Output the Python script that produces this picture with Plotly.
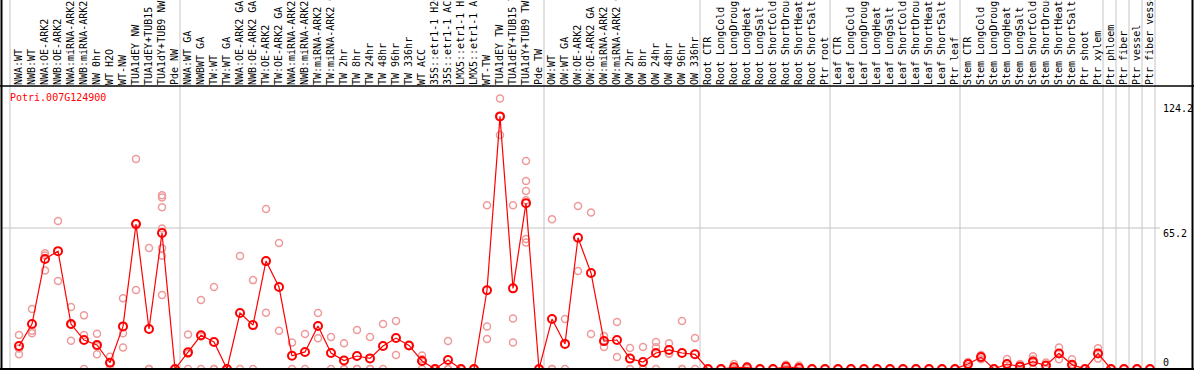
import plotly.graph_objects as go

labels = [
    "NWA:WT", "NWB:WT", "NWA:OE-ARK2", "NWB:OE-ARK2", "NWA:miRNA-ARK2", "NWB:miRNA-ARK2",
    "NW 0hr", "WT H2O", "WT-NW", "TUA1dEY NW", "TUA1dEY+TUB15 NW", "TUA1dY+TUB9 NW", "Pde NW",
    "NWA:WT GA", "NWBWT GA", "TW:WT", "TW:WT GA", "NWA:OE-ARK2 GA", "NWB:OE-ARK2 GA",
    "TW:OE-ARK2", "TW:OE-ARK2 GA", "NWA:miRNA-ARK2 GA", "NWB:miRNA-ARK2 GA", "TW:miRNA-ARK2",
    "TW:miRNA-ARK2 GA", "TW 2hr", "TW 8hr", "TW 24hr", "TW 48hr", "TW 96hr", "TW 336hr",
    "WT ACC", "35S::etr1-1 H2O", "35S::etr1-1 ACC", "LMX5::etr1-1 H2O", "LMX5::etr1-1 ACC",
    "WT-TW", "TUA1dEY TW", "TUA1dEY+TUB15 TW", "TUA1dY+TUB9 TW", "Pde TW",
    "OW:WT", "OW:WT GA", "OW:OE-ARK2", "OW:OE-ARK2 GA", "OW:miRNA-ARK2", "OW:miRNA-ARK2 GA",
    "OW 2hr", "OW 8hr", "OW 24hr", "OW 48hr", "OW 96hr", "OW 336hr",
    "Root CTR", "Root LongCold", "Root LongDrought", "Root LongHeat", "Root LongSalt",
    "Root ShortCold", "Root ShortDrought", "Root ShortHeat", "Root ShortSalt", "Ptr root",
    "Leaf CTR", "Leaf LongCold", "Leaf LongDrought", "Leaf LongHeat", "Leaf LongSalt",
    "Leaf ShortCold", "Leaf ShortDrought", "Leaf ShortHeat", "Leaf ShortSalt", "Ptr leaf",
    "Stem CTR", "Stem LongCold", "Stem LongDrought", "Stem LongHeat", "Stem LongSalt",
    "Stem ShortCold", "Stem ShortDrought", "Stem ShortHeat", "Stem ShortSalt", "Ptr shoot",
    "Ptr xylem", "Ptr phloem", "Ptr fiber", "Ptr vessel", "Ptr fiber vessel",
]

means = [
    10.6, 20.8, 50.9, 54.5, 20.8, 13.4, 11.1, 2.9, 19.7, 67.0, 18.5, 62.9, 0,
    7.7, 15.6, 12.5, 0, 25.9, 20.3, 49.9, 37.9, 6.1, 7.9, 19.9, 7.4, 3.9, 6.0, 4.9,
    10.6, 14.3, 10.9, 3.7, 0, 4.2, 0, 0, 36.4, 116.8, 37.3, 76.7, 0,
    23.1, 11.6, 60.7, 44.4, 12.9, 13.4, 4.8, 3.2, 7.4, 8.8, 7.4, 6.8,
    0, 0, 0.8, 0.7, 0, 0, 1.0, 0.5, 0, 0,
    0, 0, 0, 0, 0, 0, 0, 0, 0, 0,
    2.3, 5.5, 0, 2.3, 1.2, 3.4, 1.6, 7.2, 2.0, 0, 7.2,
    0, 0, 0, 0,
]

replicates = [
    [15.7, 9.5, 6.8], [27.7, 17.7, 16.5], [53.5, 52.5, 45.6], [68.4, 40.7],
    [28.7, 20.5, 13.1], [24.8, 15.7, 0], [16.3, 10.5, 6.8], [5.7, 3.0, 0],
    [32.7, 16.5, 9.9], [97.1, 36.5, 67.5], [55.9, 0, 0],
    [80.3, 79.3, 74.8, 65.0, 55.8, 52.4, 34.2], [0, 0],
    [16.0, 7.0, 0], [31.9, 15.0, 0], [37.9, 0, 0], [0, 0], [52.2, 0], [41.1, 0],
    [74.0, 26.0], [58.3, 17.7], [12.2, 0], [16.2, 0], [25.9, 14.2], [14.8, 0],
    [11.9, 0, 0], [18.0, 0, 0], [14.8, 0, 0], [20.8, 0], [22.2, 6.5], [10.9, 10.9],
    [6.2, 4.5, 0], [0, 0], [12.9, 0, 0], [0, 0], [0, 0],
    [75.7, 19.7, 13.9], [125.1, 116.8, 108.2], [75.7, 23.4, 12.3],
    [96.2, 86.9, 82.3, 78.0, 60.1, 58.5], [0, 0],
    [69.3, 0, 0], [23.1, 0], [75.4, 45.3], [72.4, 16.2], [15.3, 10.2], [21.7, 5.5],
    [9.7, 0], [10.2, 0, 0], [12.5, 10.0, 0], [11.9, 7.2, 7.0], [22.2, 0, 0], [14.3, 0],
    [0, 0], [0, 0], [2.3, 0, 0], [1.4, 0], [0, 0], [0, 0], [2.0, 0.9, 0], [1.6, 0, 0],
    [0, 0], [0, 0],
    [0, 0], [0, 0], [0, 0], [0, 0], [0, 0], [0, 0], [0, 0], [0, 0], [0, 0], [0, 0],
    [3.2, 2.3, 1.4], [6.5, 5.5, 4.5], [0, 0], [4.6, 2.3, 0], [2.3, 1.2, 0],
    [5.9, 4.4, 0], [3.0, 1.6, 0], [9.9, 7.2, 4.5], [4.5, 1.5, 0], [0, 0],
    [9.6, 7.2, 4.8],
    [0, 0], [0, 0], [0, 0], [0, 0],
]

group_ends = [12, 40, 52, 62, 72, 83, 84, 85, 86, 87]
gene = "Potri.007G124900"
axis_labels = ["124.2", "65.2", "0"]

# ---- geometry ----
W, H = 1194, 370
L, R, T, B = 1, 1, 86, 1
PW = W - L - R
PH = H - T - B
STEP = 13.0
X0 = -18.0 / STEP
X1 = X0 + PW / STEP
YMAX = PH / (141.0 / 65.2)
MONO = "DejaVu Sans Mono"
GRID = "#c4c4c4"


def px_x(v):
    return (v - X0) / (X1 - X0)


def pix2paper_x(px):
    return (px - L) / PW


def pix2paper_y(py):
    return (H - B - py) / PH


xs = list(range(len(labels)))
rx, ry = [], []
for i, reps in enumerate(replicates):
    for v in reps:
        rx.append(i)
        ry.append(v)

fig = go.Figure()
fig.add_trace(go.Scatter(
    x=rx, y=ry, mode="markers",
    marker=dict(symbol="circle-open", size=7, color="#ee9a9a", line=dict(width=1.5, color="#ee9a9a")),
    hoverinfo="skip", showlegend=False,
))
fig.add_trace(go.Scatter(
    x=xs, y=means, mode="lines+markers",
    line=dict(color="#ff0000", width=1.2),
    marker=dict(symbol="circle-open", size=8, color="#ff0000", line=dict(width=2, color="#ff0000")),
    showlegend=False,
))

shapes = []
top_paper = pix2paper_y(0)
vlines = [-9.0 / STEP] + [g + 5.0 / STEP for g in group_ends]
for v in vlines:
    shapes.append(dict(type="line", xref="paper", yref="paper", x0=px_x(v), x1=px_x(v),
                       y0=0, y1=top_paper, line=dict(color=GRID, width=1), layer="below"))
shapes.append(dict(type="line", xref="paper", yref="y", x0=0, x1=pix2paper_x(1160),
                   y0=65.2, y1=65.2, line=dict(color=GRID, width=1), layer="below"))
shapes.append(dict(type="line", xref="paper", yref="paper", x0=pix2paper_x(0), x1=pix2paper_x(1194),
                   y0=1, y1=1, line=dict(color="black", width=1.5)))
shapes.append(dict(type="line", xref="paper", yref="paper", x0=pix2paper_x(0), x1=pix2paper_x(1194),
                   y0=0, y1=0, line=dict(color="black", width=2)))
shapes.append(dict(type="line", xref="paper", yref="paper", x0=pix2paper_x(1.5), x1=pix2paper_x(1.5),
                   y0=pix2paper_y(372), y1=top_paper, line=dict(color="black", width=2)))
shapes.append(dict(type="line", xref="paper", yref="paper", x0=pix2paper_x(1192.5), x1=pix2paper_x(1192.5),
                   y0=pix2paper_y(372), y1=top_paper, line=dict(color="black", width=2)))

annotations = [
    dict(text=gene, xref="paper", yref="paper", x=pix2paper_x(8), y=pix2paper_y(97.5),
         xanchor="left", yanchor="middle", showarrow=False,
         font=dict(family=MONO, size=10, color="#ff0000")),
]
for txt, cy in zip(axis_labels, [108, 233, 362.5]):
    annotations.append(dict(text=txt, xref="paper", yref="paper", x=pix2paper_x(1161),
                            y=pix2paper_y(cy), xanchor="left", yanchor="middle", showarrow=False,
                            font=dict(family=MONO, size=10, color="black")))

fig.update_layout(
    width=W, height=H,
    margin=dict(l=L, r=R, t=T, b=B, autoexpand=False),
    paper_bgcolor="white", plot_bgcolor="white",
    shapes=shapes, annotations=annotations,
    xaxis=dict(range=[X0, X1], side="top", tickmode="array", tickvals=xs, ticktext=labels,
               tickangle=-90, tickfont=dict(family=MONO, size=10, color="black"),
               ticks="", showgrid=False, zeroline=False, showline=False,
               ticklabeloverflow="allow", automargin=False),
    yaxis=dict(range=[0, YMAX], showticklabels=False, ticks="", showgrid=False,
               zeroline=False, showline=False, automargin=False),
)

fig.write_html(
    "out.html",
    config={"displayModeBar": False},
    post_script="document.body.style.margin='0';document.body.style.padding='0';"
                "document.body.style.overflow='hidden';",
)
